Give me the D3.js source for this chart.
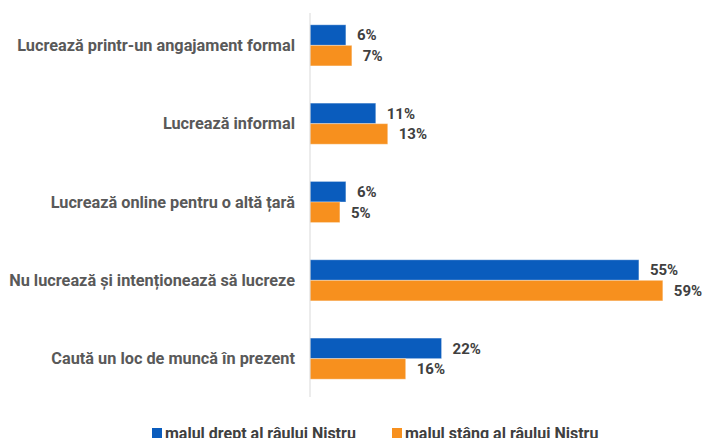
<!DOCTYPE html>
<html>
<head>
<meta charset="utf-8">
<script src="https://cdn.jsdelivr.net/npm/d3@7.9.0/dist/d3.min.js"></script>
<style>
  html, body { margin: 0; padding: 0; background: #fff; }
  svg { display: block; font-family: Roboto, "Noto Sans", sans-serif; }
</style>
</head>
<body>
<svg id="chart" width="704" height="438"></svg>
<script>
const categories = [
  'Lucrează printr-un angajament formal',
  'Lucrează informal',
  'Lucrează online pentru o altă țară',
  'Nu lucrează și intenționează să lucreze',
  'Caută un loc de muncă în prezent'
];
const seriesNames = ['malul drept al râului Nistru', 'malul stâng al râului Nistru'];
const rightBank = [6, 11, 6, 55, 22];
const leftBank = [7, 13, 5, 59, 16];
const colors = ['#0A5CBD', '#F7901E'];

const svg = d3.select('#chart');
const x0 = 310;

const x = d3.scaleLinear().domain([0, 100]).range([x0, x0 + 598]);
const y = d3.scaleBand().domain(categories).range([6, 398]).paddingInner(0.475).paddingOuter(0.24);
const ySub = d3.scaleBand().domain([0, 1]).range([0, y.bandwidth()]);

const rows = categories.map((c, i) => ({ cat: c, values: [rightBank[i], leftBank[i]] }));

// category labels
svg.append('g')
  .selectAll('text')
  .data(categories)
  .join('text')
  .attr('x', x0 - 15)
  .attr('y', d => y(d) + y.bandwidth() / 2)
  .attr('dy', '0.35em')
  .attr('text-anchor', 'end')
  .attr('fill', '#595959')
  .attr('font-size', 16.3)
  .attr('font-weight', 'bold')
  .text(d => d);

// bars
const groups = svg.append('g')
  .selectAll('g')
  .data(rows)
  .join('g')
  .attr('transform', d => `translate(0,${y(d.cat)})`);

groups.selectAll('rect')
  .data(d => d.values.map((v, k) => ({ v, k })))
  .join('rect')
  .attr('x', x(0))
  .attr('y', d => ySub(d.k))
  .attr('width', d => x(d.v) - x(0))
  .attr('height', ySub.bandwidth())
  .attr('fill', d => colors[d.k])
  .attr('stroke', '#fff')
  .attr('stroke-opacity', 0.35)
  .attr('stroke-width', 1);

groups.selectAll('text')
  .data(d => d.values.map((v, k) => ({ v, k })))
  .join('text')
  .attr('x', d => x(d.v) + 11)
  .attr('y', d => ySub(d.k) + ySub.bandwidth() / 2)
  .attr('dy', '0.35em')
  .attr('fill', '#404040')
  .attr('font-size', 15)
  .attr('font-weight', 'bold')
  .text(d => d.v + '%');

// axis line
svg.append('line')
  .attr('x1', x0).attr('x2', x0)
  .attr('y1', 13).attr('y2', 397)
  .attr('stroke', '#d9d9d9')
  .attr('stroke-width', 1);

// legend
const legendX = [152, 392];
const legend = svg.append('g')
  .selectAll('g')
  .data(seriesNames)
  .join('g')
  .attr('transform', (d, i) => `translate(${legendX[i]},438)`);

legend.append('rect')
  .attr('x', 0).attr('y', -10)
  .attr('width', 10).attr('height', 10)
  .attr('fill', (d, i) => colors[i]);

legend.append('text')
  .attr('x', 13)
  .attr('y', 1)
  .attr('fill', '#404040')
  .attr('font-size', 16)
  .attr('font-weight', 'bold')
  .text(d => d);
</script>
</body>
</html>
